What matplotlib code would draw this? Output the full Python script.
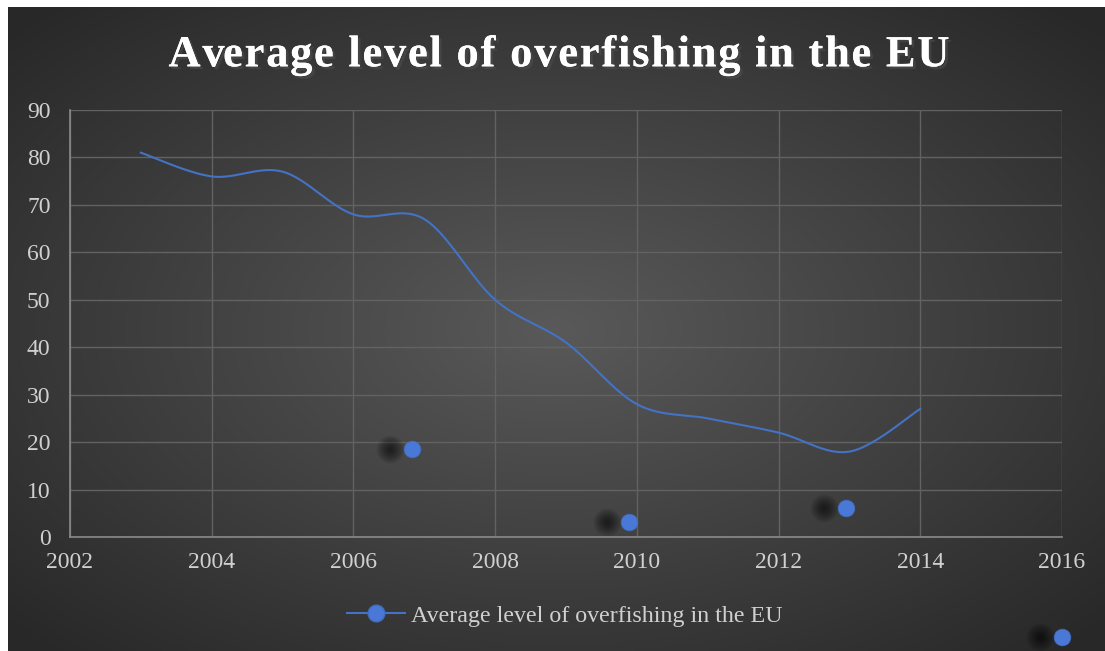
import numpy as np
import matplotlib
matplotlib.use("Agg")
import matplotlib.pyplot as plt
import matplotlib.patheffects as pe
from matplotlib.font_manager import FontProperties

# data
years = [2003, 2004, 2005, 2006, 2007, 2008, 2009, 2010, 2011, 2012, 2013, 2014]
overfishing = [81, 76, 77, 68, 67, 50, 41, 28, 25, 22, 18, 27]

# stray markers that the original chart shows
stray_x = [2006.83, 2009.89, 2012.95, 2016.0]
stray_y = [18.5, 3.2, 6.1, -21.1]

x_ticks = [2002, 2004, 2006, 2008, 2010, 2012, 2014, 2016]
y_ticks = [0, 10, 20, 30, 40, 50, 60, 70, 80, 90]

title = "Average level of overfishing in the EU"
series_name = "Average level of overfishing in the EU"

BLUE = "#4472C4"
MARK = "#4a78d6"
TXT = "#d0d0d0"


def smooth(xs, ys, n=40):
    # Excel-style smoothed line (Catmull-Rom through the points)
    xs = np.asarray(xs, float)
    ys = np.asarray(ys, float)
    px = np.concatenate([[xs[0]], xs, [xs[-1]]])
    py = np.concatenate([[ys[0]], ys, [ys[-1]]])
    ox, oy = [], []
    for i in range(1, len(px) - 2):
        t = np.linspace(0, 1, n, endpoint=False)
        for p, out in ((px, ox), (py, oy)):
            p0, p1, p2, p3 = p[i - 1], p[i], p[i + 1], p[i + 2]
            out.extend(0.5 * (2 * p1 + (-p0 + p2) * t
                              + (2 * p0 - 5 * p1 + 4 * p2 - p3) * t ** 2
                              + (-p0 + 3 * p1 - 3 * p2 + p3) * t ** 3))
    ox.append(xs[-1])
    oy.append(ys[-1])
    return np.array(ox), np.array(oy)


plt.rcParams['font.family'] = ['Liberation Serif', 'DejaVu Serif']

fig = plt.figure(figsize=(11.05, 6.51), dpi=100, facecolor="white")
W, H = 1105, 651

# dark radial gradient background
bg = fig.add_axes([8 / W, 0, 1 - 8 / W, 644 / H])
gx, gy = np.meshgrid(np.linspace(-1, 1, 400), np.linspace(-1, 1, 240))
r = np.sqrt(gx ** 2 + gy ** 2)
r = np.clip(r / 1.35, 0, 1)
shade = 0.35 - 0.19 * r
bg.imshow(np.dstack([shade, shade, shade]), aspect="auto", extent=[0, 1, 0, 1])
bg.set_axis_off()

ax = fig.add_axes([70 / W, 114 / H, 992 / W, 427 / H])
ax.set_facecolor("none")
ax.set_xlim(2002, 2016)
ax.set_ylim(0, 90)
ax.set_xticks(x_ticks)
ax.set_yticks(y_ticks)
ax.grid(True, color="#626262", lw=1)
ax.set_axisbelow(True)
for s in ("top", "right"):
    ax.spines[s].set_visible(False)
for s in ("left", "bottom"):
    ax.spines[s].set_color("#8a8a8a")
    ax.spines[s].set_linewidth(1.2)
ax.tick_params(length=0, colors=TXT, labelsize=17)
ax.tick_params(axis="y", pad=14)
ax.tick_params(axis="x", pad=11)

sx, sy = smooth(years, overfishing)
ax.plot(sx, sy, color=BLUE, lw=1.5)

# stray markers with soft dark shadow
for x, y in zip(stray_x, stray_y):
    for k in range(28, 2, -2):
        ax.plot([x - 0.31], [y], "o", ms=k * 0.72, color="black", alpha=0.05,
                mec="none", clip_on=False)
    ax.plot([x], [y], "o", ms=12, color=MARK, mec="#3f6cc4", mew=0.5,
            clip_on=False, zorder=5)

h, = ax.plot([], [], color=BLUE, lw=1.5, marker="o", ms=12, mfc=MARK,
             mec="#3f6cc4")
leg = fig.legend([h], [series_name], loc="center", bbox_to_anchor=(0.511, 0.054),
                 frameon=False, fontsize=17.3, handlelength=2.4, handletextpad=0.25)
for t in leg.get_texts():
    t.set_color(TXT)

# title with letter spacing, placed glyph by glyph
prop = FontProperties(family="Liberation Serif", weight="bold", size=32)
rend = fig.canvas.get_renderer()


def text_w(s):
    w1 = rend.get_text_width_height_descent(s + "x", prop, ismath=False)[0]
    w2 = rend.get_text_width_height_descent("x", prop, ismath=False)[0]
    return w1 - w2


spacing = 1.75
total = text_w(title) + spacing * (len(title) - 1)
x0 = 559 - total / 2
for i, ch in enumerate(title):
    if ch == " ":
        continue
    xp = x0 + text_w(title[:i]) + spacing * i
    fig.text(xp / W, 0.915, ch, ha="left", va="center", color="white",
             fontproperties=prop,
             path_effects=[pe.withSimplePatchShadow(offset=(2, -2), alpha=0.6),
                           pe.Normal()])

fig.savefig("out.png", dpi=100, facecolor="white")
